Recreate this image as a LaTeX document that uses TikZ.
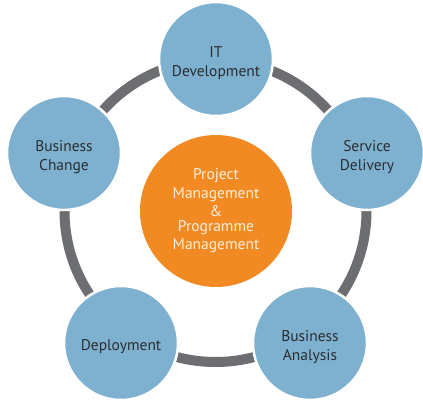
\documentclass[tikz,border=0pt]{standalone}
\usepackage{fontspec}
\setmainfont{PT Sans}
\definecolor{ringgray}{HTML}{6D6E71}
\definecolor{nodeblue}{HTML}{7EB1CF}
\definecolor{coreorange}{HTML}{F28A24}
\definecolor{textdark}{HTML}{2A2E33}
\definecolor{textlight}{HTML}{FDEEDD}
\begin{document}
\begin{tikzpicture}[x=1pt,y=-1pt,
  outer/.style={circle,fill=nodeblue,draw=white,line width=2.5pt,minimum size=114pt,inner sep=0pt,
    label={[outertext]center:#1}},
  outertext/.style={align=center,font=\fontsize{15.5}{19}\selectfont,text=textdark,yshift=-4pt},
  core/.style={circle,fill=coreorange,minimum size=152pt,inner sep=0pt,
    align=center,font=\fontsize{15.5}{19}\selectfont,text=textlight},
  ring/.style={draw=ringgray,line width=10pt}]
\useasboundingbox (0,0) rectangle (423,401);
\coordinate (ringc) at (215.5,211);
\draw[ring] (ringc) circle[radius=151];
\node[core] (pm) at (216,211) {\raisebox{-2pt}{\shortstack{Project\\[1pt]Management\\[1pt]\&\\[1pt]Programme\\[1pt]Management}}};
\node[outer={IT\\Development}] (it) at (216,59) {};
\node[outer={Service\\Delivery}] (sd) at (367,153) {};
\node[outer={Business\\Analysis}] (ba) at (310,343) {};
\node[outer={Deployment}] (dep) at (121,343) {};
\node[outer={Business\\Change}] (bc) at (64,153) {};
\end{tikzpicture}
\end{document}
